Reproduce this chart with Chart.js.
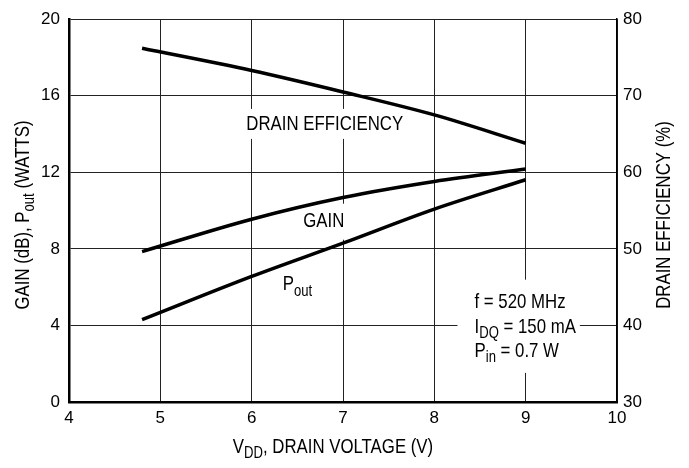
<!DOCTYPE html>
<html>
<head>
<meta charset="utf-8">
<script src="https://cdn.jsdelivr.net/npm/chart.js@4.4.1/dist/chart.umd.min.js"></script>
<style>
    html, body { margin: 0; padding: 0; background: #fff; }
    #wrap { width: 689px; height: 468px; }
</style>
</head>
<body>
<div id="wrap"><canvas id="chartVdd" width="689" height="468"></canvas></div>
<script>
// valores
const voltage = [4.8, 6, 7, 8, 9];
const gainDb = [7.86, 9.55, 10.68, 11.52, 12.17];
const poutW = [4.30, 6.56, 8.30, 10.08, 11.61];
const efficiencyPct = [76.2, 73.3, 70.5, 67.5, 63.8];

const xTicks = [4, 5, 6, 7, 8, 9, 10];
const leftTicks = [0, 4, 8, 12, 16, 20];
const rightTicks = [30, 40, 50, 60, 70, 80];

const FAMILY = '"Liberation Sans", Arial, sans-serif';
const TICK_SIZE = 17;
const TEXT_SIZE = 21;
const SQUEEZE = 0.8; // letra angosta como en el original

const fontStr = (size) => `${size}px ${FAMILY}`;

const toPoints = (ys) => voltage.map((v, i) => ({ x: v, y: ys[i] }));

// texto con subindices
const richWidth = (ctx, parts, size) => {
    let w = 0;
    parts.forEach(p => {
        ctx.font = fontStr(p.sub ? size * 0.78 : size);
        w += ctx.measureText(p.t).width * SQUEEZE;
    });
    return w;
};

const richText = (ctx, parts, x, y, align, size) => {
    const w = richWidth(ctx, parts, size);
    let cx = align === 'center' ? x - w / 2 : x;
    parts.forEach(p => {
        const s = p.sub ? size * 0.78 : size;
        ctx.save();
        ctx.font = fontStr(s);
        ctx.textAlign = 'left';
        ctx.textBaseline = 'middle';
        ctx.fillStyle = '#000';
        ctx.translate(cx, p.sub ? y + size * 0.32 : y);
        ctx.scale(SQUEEZE, 1);
        ctx.fillText(p.t, 0, 0);
        cx += ctx.measureText(p.t).width * SQUEEZE;
        ctx.restore();
    });
    return w;
};

const labelsPlugin = {
    id: 'labelsPlugin',
    beforeDatasetsDraw(chart) {
        const ctx = chart.ctx;
        const xs = chart.scales.x;
        const yl = chart.scales.yLeft;
        ctx.save();

        // DRAIN EFFICIENCY
        const deParts = [{ t: 'DRAIN EFFICIENCY' }];
        const deX = xs.getPixelForValue(6.8), deY = yl.getPixelForValue(14.53);
        const deW = richWidth(ctx, deParts, TEXT_SIZE);
        ctx.fillStyle = '#fff';
        ctx.fillRect(deX - deW / 2 - 4, deY - 15, deW + 8, 30);
        richText(ctx, deParts, deX, deY, 'center', TEXT_SIZE);

        // GAIN
        const gParts = [{ t: 'GAIN' }];
        const gX = xs.getPixelForValue(6.79), gY = yl.getPixelForValue(9.42);
        const gW = richWidth(ctx, gParts, TEXT_SIZE);
        ctx.fillStyle = '#fff';
        ctx.fillRect(gX - gW / 2 - 4, gY - 18, gW + 8, 36);
        richText(ctx, gParts, gX, gY, 'center', TEXT_SIZE);

        // Pout
        richText(ctx, [{ t: 'P' }, { t: 'out', sub: true }],
            xs.getPixelForValue(6.34), yl.getPixelForValue(6.13), 'left', TEXT_SIZE);

        // condiciones
        const lines = [
            [{ t: 'f = 520 MHz' }],
            [{ t: 'I' }, { t: 'DQ', sub: true }, { t: ' = 150 mA' }],
            [{ t: 'P' }, { t: 'in', sub: true }, { t: ' = 0.7 W' }]
        ];
        const lineVals = [5.19, 3.92, 2.67];
        const bx = xs.getPixelForValue(8.44);
        let maxW = 0;
        lines.forEach(l => { maxW = Math.max(maxW, richWidth(ctx, l, TEXT_SIZE)); });
        const top = yl.getPixelForValue(lineVals[0]) - 23;
        const bottom = yl.getPixelForValue(lineVals[2]) + 22;
        ctx.fillStyle = '#fff';
        ctx.fillRect(bx - 17, top, maxW + 21, bottom - top);
        lines.forEach((l, i) => richText(ctx, l, bx, yl.getPixelForValue(lineVals[i]), 'left', TEXT_SIZE));

        ctx.restore();
    },
    afterDraw(chart) {
        const ctx = chart.ctx;
        const area = chart.chartArea;
        ctx.save();
        // titulo eje x
        const xt = [{ t: 'V' }, { t: 'DD', sub: true }, { t: ', DRAIN VOLTAGE (V)' }];
        richText(ctx, xt, (area.left + area.right) / 2 - 10, 447, 'center', TEXT_SIZE);

        // titulo eje izquierdo
        ctx.translate(23, 215);
        ctx.rotate(-Math.PI / 2);
        richText(ctx, [{ t: 'GAIN (dB), P' }, { t: 'out', sub: true }, { t: ' (WATTS)' }], 0, 0, 'center', TEXT_SIZE);
        ctx.restore();

        // titulo eje derecho
        ctx.save();
        ctx.translate(664, 215);
        ctx.rotate(-Math.PI / 2);
        richText(ctx, [{ t: 'DRAIN EFFICIENCY (%)' }], 0, 0, 'center', TEXT_SIZE);
        ctx.restore();
    }
};

const lineStyle = {
    borderColor: '#000',
    borderWidth: 3.5,
    pointRadius: 0,
    fill: false,
    tension: 0.4,
    cubicInterpolationMode: 'monotone'
};

const chartVdd = new Chart(document.getElementById('chartVdd').getContext('2d'), {
    type: 'line',
    data: {
        datasets: [
            { label: 'Drain Efficiency', data: toPoints(efficiencyPct), yAxisID: 'yRight', ...lineStyle },
            { label: 'Gain', data: toPoints(gainDb), yAxisID: 'yLeft', ...lineStyle },
            { label: 'Pout', data: toPoints(poutW), yAxisID: 'yLeft', ...lineStyle }
        ]
    },
    options: {
        responsive: false,
        animation: false,
        devicePixelRatio: 1,
        layout: { padding: { top: 19, left: 0, right: 0, bottom: 0 } },
        plugins: {
            legend: { display: false },
            tooltip: { enabled: false }
        },
        scales: {
            x: {
                type: 'linear',
                min: xTicks[0],
                max: xTicks[xTicks.length - 1],
                afterBuildTicks: (scale) => { scale.ticks = xTicks.map(v => ({ value: v })); },
                afterFit: (scale) => { scale.height = 66; },
                grid: { color: '#222', lineWidth: 1, drawTicks: false },
                border: { color: '#000', width: 2.5 },
                ticks: { color: '#000', padding: 6, font: { family: FAMILY, size: TICK_SIZE }, maxRotation: 0 }
            },
            yLeft: {
                type: 'linear',
                position: 'left',
                min: leftTicks[0],
                max: leftTicks[leftTicks.length - 1],
                afterBuildTicks: (scale) => { scale.ticks = leftTicks.map(v => ({ value: v })); },
                afterFit: (scale) => { scale.width = 69; },
                grid: { color: '#222', lineWidth: 1, drawTicks: false },
                border: { color: '#000', width: 2.5 },
                ticks: { color: '#000', padding: 9, font: { family: FAMILY, size: TICK_SIZE } }
            },
            yRight: {
                type: 'linear',
                position: 'right',
                min: rightTicks[0],
                max: rightTicks[rightTicks.length - 1],
                afterBuildTicks: (scale) => { scale.ticks = rightTicks.map(v => ({ value: v })); },
                afterFit: (scale) => { scale.width = 72; },
                grid: { display: false, drawTicks: false },
                border: { color: '#000', width: 1.5 },
                ticks: { color: '#000', padding: 6, font: { family: FAMILY, size: TICK_SIZE } }
            }
        }
    },
    plugins: [labelsPlugin]
});
</script>
</body>
</html>
